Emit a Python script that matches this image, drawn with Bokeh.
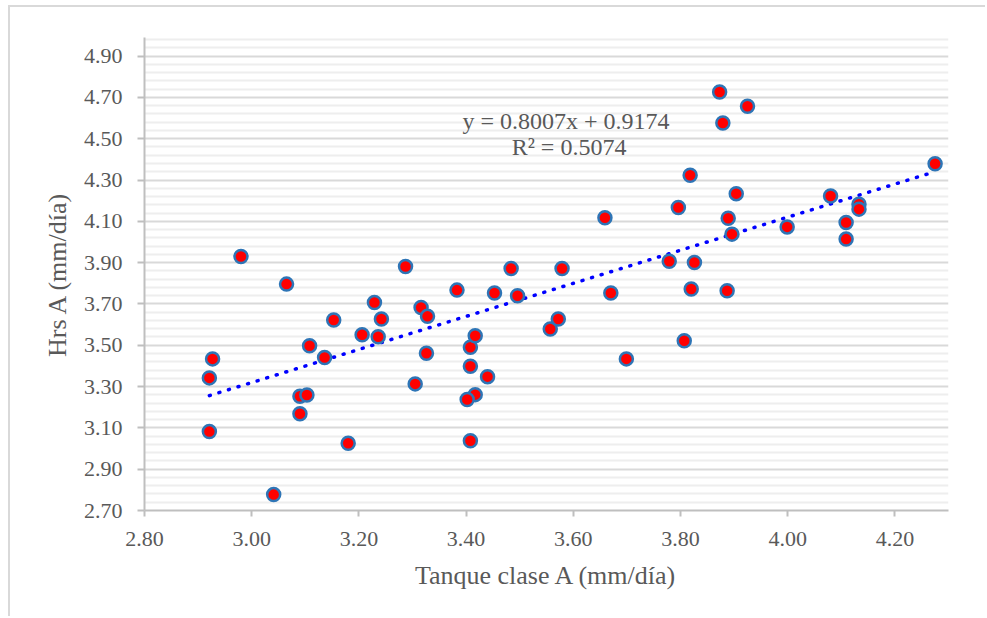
import numpy as np
from bokeh.plotting import figure
from bokeh.models import FixedTicker, NumeralTickFormatter, Label, ColumnDataSource
from bokeh.embed import file_html
from bokeh.resources import INLINE

# ---- data ----
tanque = [2.927, 2.921, 2.921, 2.980, 3.041, 3.065, 3.090, 3.103, 3.090, 3.108,
          3.136, 3.153, 3.180, 3.206, 3.229, 3.242, 3.236, 3.287, 3.305, 3.316,
          3.328, 3.326, 3.383, 3.408, 3.417, 3.408, 3.440, 3.417, 3.402, 3.408,
          3.453, 3.484, 3.496, 3.557, 3.572, 3.579, 3.659, 3.670, 3.699, 3.779,
          3.796, 3.807, 3.818, 3.826, 3.820, 3.873, 3.879, 3.925, 3.887, 3.889,
          3.896, 3.904, 3.999, 4.080, 4.109, 4.109, 4.133, 4.133, 4.275]
hrs = [3.434, 3.342, 3.082, 3.930, 2.777, 3.796, 3.253, 3.259, 3.168, 3.498,
       3.441, 3.622, 3.026, 3.551, 3.707, 3.627, 3.541, 3.881, 3.313, 3.683,
       3.640, 3.461, 3.767, 3.490, 3.546, 3.398, 3.348, 3.261, 3.237, 3.038,
       3.753, 3.872, 3.740, 3.579, 3.627, 3.872, 4.117, 3.753, 3.434, 3.907,
       4.167, 3.522, 4.323, 3.901, 3.772, 4.726, 4.576, 4.657, 3.764, 4.115,
       4.038, 4.234, 4.073, 4.223, 4.094, 4.014, 4.183, 4.159, 4.379]
slope = 0.8007
intercept = 0.9174
r2 = 0.5074
x_ticks = [2.80, 3.00, 3.20, 3.40, 3.60, 3.80, 4.00, 4.20]
y_ticks = [2.70, 2.90, 3.10, 3.30, 3.50, 3.70, 3.90, 4.10, 4.30, 4.50, 4.70, 4.90]
x_title = "Tanque clase A (mm/día)"
y_title = "Hrs A (mm/día)"

FONT = "Liberation Serif"
GRAY = "#595959"

p = figure(width=977, height=611, output_backend="svg", toolbar_location=None,
           x_range=(2.80, 4.30), y_range=(2.70, 4.99),
           min_border_left=134, min_border_right=39, min_border_top=30, min_border_bottom=108,
           styles={"margin-left": "8px", "margin-top": "5px",
                   "border-left": "2px solid #d9d9d9", "border-top": "2px solid #d9d9d9"})
p.outline_line_color = None
p.background_fill_color = "white"
p.border_fill_color = "white"

# grid
p.xgrid.grid_line_color = None
p.ygrid.grid_line_color = "#d9d9d9"
p.ygrid.grid_line_width = 2
p.ygrid.minor_grid_line_color = "#eeeeee"
p.ygrid.minor_grid_line_width = 2

minor_y = [round(v, 2) for v in np.arange(2.74, 4.99, 0.04) if all(abs(v - t) > 1e-6 for t in y_ticks)]
p.yaxis.ticker = FixedTicker(ticks=y_ticks, minor_ticks=minor_y)
p.xaxis.ticker = FixedTicker(ticks=x_ticks)
p.ygrid.ticker = p.yaxis.ticker

for ax in (p.xaxis, p.yaxis):
    ax.formatter = NumeralTickFormatter(format="0.00")
    ax.axis_line_color = "#bfbfbf"
    ax.axis_line_width = 2
    ax.major_tick_line_color = "#bfbfbf"
    ax.major_tick_line_width = 2
    ax.major_tick_in = 0
    ax.minor_tick_in = 0
    ax.minor_tick_out = 0
    ax.major_label_text_font = FONT
    ax.major_label_text_font_size = "22px"
    ax.major_label_text_color = GRAY
    ax.axis_label_text_font = FONT
    ax.axis_label_text_font_size = "26px"
    ax.axis_label_text_font_style = "normal"
    ax.axis_label_text_color = GRAY

p.yaxis.major_tick_out = 7
p.xaxis.major_tick_out = 6
p.yaxis.major_label_standoff = 15
p.xaxis.major_label_standoff = 15
p.xaxis.axis_label = x_title
p.yaxis.axis_label = y_title
p.xaxis.axis_label_standoff = 12
p.yaxis.axis_label_standoff = 9

# trend line
xs = np.array([min(tanque), max(tanque)])
p.line(xs, slope * xs + intercept, line_color="#0000ff", line_width=3.5,
       line_dash="1 9", line_cap="round")

# points
src = ColumnDataSource(dict(x=tanque, y=hrs))
p.scatter("x", "y", source=src, size=13, fill_color="#ff0000",
          line_color="#2e75b6", line_width=2.5)

# equation labels
p.add_layout(Label(x=3.592, y=4.585, text=f"y = {slope}x  + {intercept}",
                   text_align="center", text_baseline="middle",
                   text_font=FONT, text_font_size="24px", text_color=GRAY))
p.add_layout(Label(x=3.592, y=4.458, text=f"R² = {r2}",
                   text_align="center", text_baseline="middle",
                   text_font=FONT, text_font_size="24px", text_color=GRAY))

open("out.html", "w").write(file_html(p, INLINE))
